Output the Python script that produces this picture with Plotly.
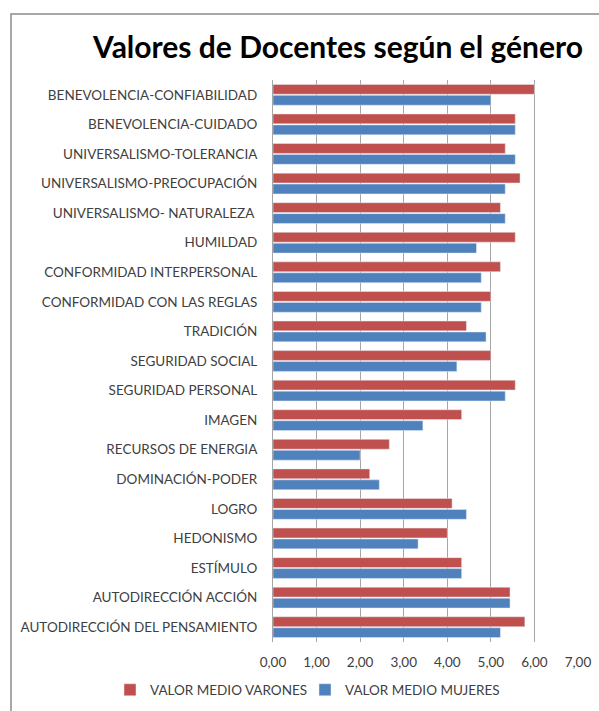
import plotly.graph_objects as go

categories = [
    "BENEVOLENCIA-CONFIABILIDAD",
    "BENEVOLENCIA-CUIDADO",
    "UNIVERSALISMO-TOLERANCIA",
    "UNIVERSALISMO-PREOCUPACIÓN",
    "UNIVERSALISMO- NATURALEZA ",
    "HUMILDAD",
    "CONFORMIDAD INTERPERSONAL",
    "CONFORMIDAD CON LAS REGLAS",
    "TRADICIÓN",
    "SEGURIDAD SOCIAL",
    "SEGURIDAD PERSONAL",
    "IMAGEN",
    "RECURSOS DE ENERGIA",
    "DOMINACIÓN-PODER",
    "LOGRO",
    "HEDONISMO",
    "ESTÍMULO",
    "AUTODIRECCIÓN ACCIÓN",
    "AUTODIRECCIÓN DEL PENSAMIENTO",
]

varones = [6.00, 5.56, 5.33, 5.67, 5.22, 5.56, 5.22, 5.00, 4.44, 5.00,
           5.56, 4.33, 2.67, 2.22, 4.11, 4.00, 4.33, 5.44, 5.78]
mujeres = [5.00, 5.56, 5.56, 5.33, 5.33, 4.67, 4.78, 4.78, 4.89, 4.22,
           5.33, 3.44, 2.00, 2.44, 4.44, 3.33, 4.33, 5.44, 5.22]

x_ticks = [0, 1, 2, 3, 4, 5, 6, 7]

RED = "#C0504D"
BLUE = "#4F81BD"
TXT = "#404040"

fig = go.Figure()
fig.add_trace(go.Bar(y=categories, x=varones, orientation="h",
                     name="VALOR MEDIO VARONES", marker_color=RED))
fig.add_trace(go.Bar(y=categories, x=mujeres, orientation="h",
                     name="VALOR MEDIO MUJERES", marker_color=BLUE))

W, H = 599, 711
L, R, T, B = 273, 21, 80, 69
pw = W - L - R
ph = H - T - B

def px_to_paper_x(px):
    return (px - L) / pw

def py_to_paper_y(py):
    return (H - B - py) / ph

fig.update_layout(
    width=W, height=H,
    margin=dict(l=L, r=R, t=T, b=B, autoexpand=False),
    paper_bgcolor="white", plot_bgcolor="white",
    barmode="group", bargap=0.26, bargroupgap=0.1,
    separators=",.",
    font=dict(family="Lato", size=13.5, color=TXT),
    title=dict(text="<b>Valores de Docentes según el género</b>",
               x=338 / W, xanchor="center", xref="container",
               y=1 - 47 / H, yanchor="middle", yref="container",
               font=dict(family="Lato", size=30, color="black")),
    xaxis=dict(range=[0, 7], tickvals=x_ticks, tickformat=".2f",
               showgrid=True, gridcolor="#A6A6A6", gridwidth=1,
               zeroline=False, showline=False, ticks="",
               tickfont=dict(size=13.5, color=TXT), ticklabelstandoff=10),
    yaxis=dict(autorange="reversed", showline=True, linecolor="#A6A6A6",
               linewidth=1, ticks="", showgrid=False,
               tickfont=dict(size=13.5, color=TXT), ticklabelstandoff=12),
    legend=dict(orientation="h", x=px_to_paper_x(110), xanchor="left",
                y=py_to_paper_y(690), yanchor="middle",
                font=dict(size=13.5, color=TXT), itemwidth=30,
                entrywidth=150, entrywidthmode="pixels"),
    showlegend=True,
    shapes=[dict(type="rect", xref="paper", yref="paper",
                 x0=px_to_paper_x(11), x1=px_to_paper_x(700),
                 y0=py_to_paper_y(800), y1=py_to_paper_y(14),
                 line=dict(color="#8C8C8C", width=1.5), layer="below")],
)

fig.write_html("out.html", config={"displayModeBar": False},
               post_script="document.body.style.margin='0';document.body.style.overflow='hidden';")
